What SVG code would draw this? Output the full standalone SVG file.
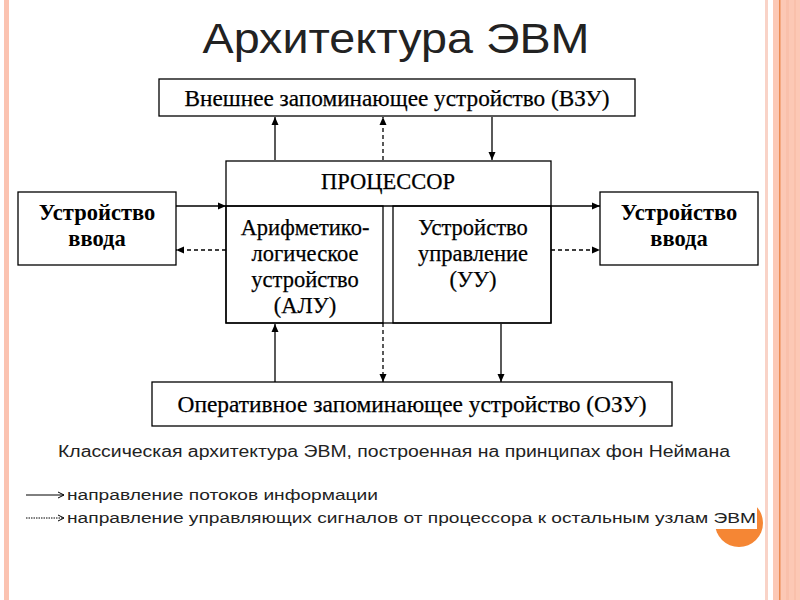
<svg xmlns="http://www.w3.org/2000/svg" width="800" height="600" viewBox="0 0 800 600">
<defs>
<marker id="ah" markerWidth="8" markerHeight="8" refX="8" refY="4" orient="auto" markerUnits="userSpaceOnUse">
<path d="M0,0.5 L8,4 L0,7.5 Z" fill="#000"/>
</marker>
<marker id="lh" markerWidth="8" markerHeight="8" refX="7" refY="4" orient="auto" markerUnits="userSpaceOnUse">
<path d="M1,1 L7,4 L1,7" fill="none" stroke="#000" stroke-width="1"/>
</marker>
</defs>
<style>
.box{fill:#fff;stroke:#000;stroke-width:1.3}
.ser{font-family:"Liberation Serif","Times New Roman",serif;font-size:22.5px;fill:#000;text-anchor:middle;stroke:#000;stroke-width:0.25}
.bold{font-weight:bold;stroke-width:0}
.sans{font-family:"Liberation Sans",Arial,sans-serif;fill:#222}
.solid{stroke:#000;stroke-width:1.3;fill:none;marker-end:url(#ah)}
.dash{stroke:#000;stroke-width:1.3;fill:none;stroke-dasharray:4 3;marker-end:url(#ah)}
</style>
<rect width="800" height="600" fill="#fff"/>
<!-- borders -->
<rect x="4" y="0" width="5" height="600" fill="#fbc3b1"/>
<rect x="765" y="0" width="3" height="600" fill="#f9d3c7"/>
<rect x="773" y="0" width="27" height="600" fill="#fcc8b5"/>
<rect x="779" y="0" width="1.5" height="600" fill="#eb8a50"/>
<rect x="786" y="0" width="3" height="600" fill="#f9c0ab"/>
<rect x="794" y="0" width="2" height="600" fill="#f9c0ab"/>
<!-- title -->
<text x="396" y="53" class="sans" font-size="43" fill="#111" text-anchor="middle" textLength="387" lengthAdjust="spacingAndGlyphs">Архитектура ЭВМ</text>
<g id="connectors">
<line x1="275" y1="160" x2="275" y2="117" class="solid"/>
<line x1="383" y1="160" x2="383" y2="117" class="dash"/>
<line x1="492" y1="117" x2="492" y2="160" class="solid"/>
<line x1="176" y1="206" x2="226" y2="206" class="solid"/>
<line x1="226" y1="250" x2="176" y2="250" class="dash"/>
<line x1="551" y1="206" x2="600" y2="206" class="solid"/>
<line x1="551" y1="250" x2="600" y2="250" class="dash"/>
<line x1="275" y1="382" x2="275" y2="324" class="solid"/>
<line x1="383" y1="323" x2="383" y2="382" class="dash"/>
<line x1="501" y1="324" x2="501" y2="382" class="solid"/>
</g>
<g id="vzu">
<rect x="159" y="79" width="476" height="37" class="box"/>
<text x="397" y="106" class="ser" textLength="425" lengthAdjust="spacingAndGlyphs">Внешнее запоминающее устройство (ВЗУ)</text>
</g>
<g id="processor">
<rect x="226" y="161" width="325" height="162" class="box"/>
<line x1="226" y1="206" x2="551" y2="206" stroke="#000" stroke-width="1.3"/>
<text x="388" y="189" class="ser">ПРОЦЕССОР</text>
</g>
<g id="alu">
<rect x="226" y="206" width="157" height="117" fill="none" stroke="#000" stroke-width="1.3"/>
<text class="ser" x="305" y="235">Арифметико-</text>
<text class="ser" x="305" y="261">логическое</text>
<text class="ser" x="305" y="287">устройство</text>
<text class="ser" x="305" y="313">(АЛУ)</text>
</g>
<g id="uu">
<rect x="393" y="206" width="158" height="117" fill="none" stroke="#000" stroke-width="1.3"/>
<text class="ser" x="473" y="235">Устройство</text>
<text class="ser" x="473" y="261">управление</text>
<text class="ser" x="473" y="287">(УУ)</text>
</g>
<g id="input-left">
<rect x="18" y="192" width="158" height="73" class="box"/>
<text class="ser bold" x="97" y="220">Устройство</text>
<text class="ser bold" x="97" y="246">ввода</text>
</g>
<g id="input-right">
<rect x="600" y="192" width="158" height="73" class="box"/>
<text class="ser bold" x="679" y="220">Устройство</text>
<text class="ser bold" x="679" y="246">ввода</text>
</g>
<g id="ozu">
<rect x="152" y="382" width="520" height="44" class="box"/>
<text x="412" y="412" class="ser" textLength="469" lengthAdjust="spacingAndGlyphs">Оперативное запоминающее устройство (ОЗУ)</text>
</g>
<text x="58" y="457" class="sans" font-size="16" textLength="672" lengthAdjust="spacingAndGlyphs">Классическая архитектура ЭВМ, построенная на принципах фон Неймана</text>
<!-- legend -->
<circle cx="739" cy="523" r="24" fill="#f58634"/>
<rect x="20" y="480" width="737" height="49" fill="#fff"/>
<line x1="26" y1="495" x2="64" y2="495" stroke="#000" stroke-width="1" marker-end="url(#lh)"/>
<line x1="26" y1="518" x2="64" y2="518" stroke="#000" stroke-width="1" stroke-dasharray="1.5 1" marker-end="url(#lh)"/>
<text x="67" y="500" class="sans" font-size="15.5" textLength="311" lengthAdjust="spacingAndGlyphs">направление потоков информации</text>
<text x="67" y="523" class="sans" font-size="15.5" textLength="689" lengthAdjust="spacingAndGlyphs">направление управляющих сигналов от процессора к остальным узлам ЭВМ</text>
</svg>
